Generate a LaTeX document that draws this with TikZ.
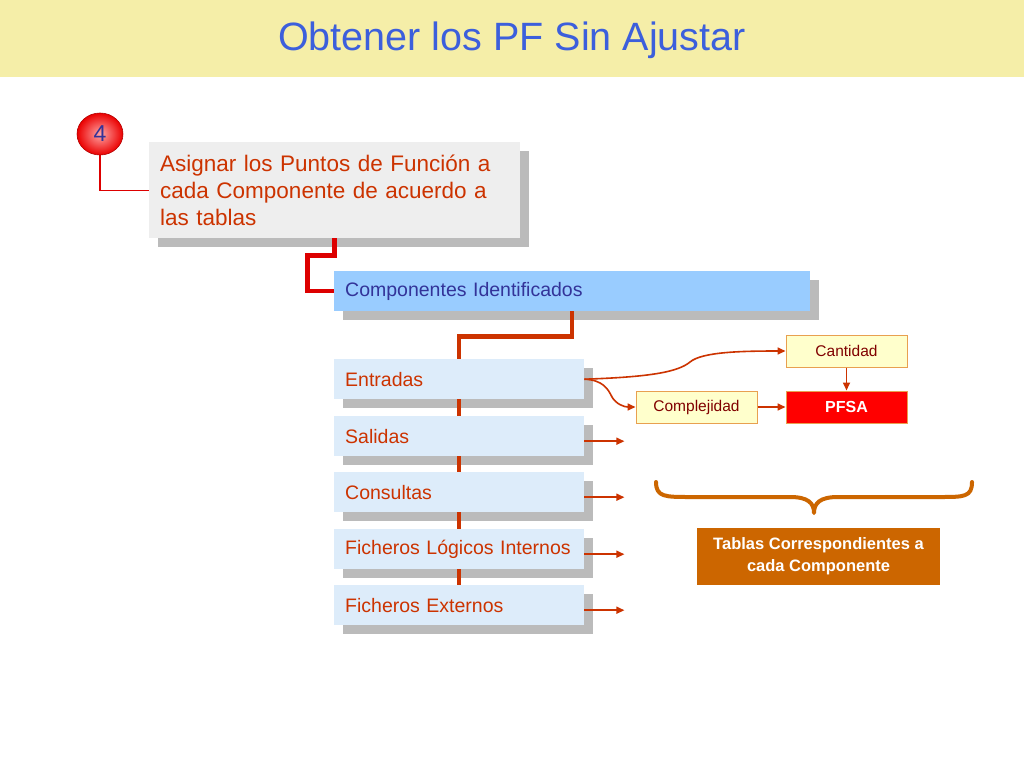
\documentclass[tikz,border=0pt]{standalone}
\usepackage{fontspec}
\setmainfont{Liberation Sans}
\usetikzlibrary{arrows.meta,shapes.geometric,calc}
\definecolor{hdr}{HTML}{F5EEA8}
\definecolor{ttl}{HTML}{3C5FDC}
\definecolor{rtx}{HTML}{CC3300}
\definecolor{shd}{HTML}{BBBBBB}
\definecolor{gbox}{HTML}{EEEEEE}
\definecolor{bbox}{HTML}{99CCFF}
\definecolor{btx}{HTML}{333399}
\definecolor{ibox}{HTML}{DDECFA}
\definecolor{conn}{HTML}{DD0000}
\definecolor{ylw}{HTML}{FFFFCC}
\definecolor{ylb}{HTML}{E8A050}
\definecolor{dred}{HTML}{800000}
\definecolor{org}{HTML}{CC6600}
\pgfdeclarelayer{background}
\pgfdeclarelayer{canvas}
\pgfsetlayers{canvas,background,main}
\tikzset{
  box/.style={anchor=north west, inner ysep=0pt, align=left, font=\fontsize{19.5}{23}\selectfont},
  itembox/.style={box, fill=ibox, text=rtx, minimum height=40, text width=228, inner xsep=11},
  smallbox/.style={draw=ylb, line width=1, fill=ylw, text=dred, minimum width=121, minimum height=32, inner sep=0pt, font=\fontsize{15.5}{18}\selectfont},
  arr/.style={draw=rtx, line width=1.6, -{Triangle[length=8pt,width=7pt]}},
  shadowbox/.style={fill=shd}
}
\newcommand{\shadowof}[1]{\fill[shadowbox] ($(#1.north west)+(9,9)$) rectangle ($(#1.south east)+(9,9)$);}
\begin{document}
\begin{tikzpicture}[x=1pt,y=-1pt]
\useasboundingbox (0,0) rectangle (1024,768);
\begin{pgfonlayer}{canvas}
\fill[white] (0,0) rectangle (1024,768);
\fill[hdr] (0,0) rectangle (1024,77);
\end{pgfonlayer}
\node[text=ttl, font=\fontsize{39.5}{44}\selectfont] (title) at (512,40) {Obtener los PF Sin Ajustar};

% step number
\shade[inner color=red!35!white, outer color=red!92!black, draw=red!70!black, line width=0.6] (100,134) ellipse [x radius=23, y radius=21];
\node[ellipse, minimum width=46, minimum height=42, inner sep=0pt, text=btx, font=\fontsize{23}{24}\selectfont] (c4) at (100,134) {4};

% main boxes
\node[box, fill=gbox, text=rtx, minimum height=96, text width=349, inner xsep=11, font=\fontsize{22.5}{27}\selectfont] (b1) at (149,142) {Asignar los Puntos de Función a\\cada Componente de acuerdo a\\las tablas};
\node[box, fill=bbox, text=btx, minimum height=40, text width=454, inner xsep=11] (b2) at (334,271) {Componentes Identificados};

\node[itembox] (ent) at (334,359) {Entradas};
\node[itembox] (sal) at (334,416) {Salidas};
\node[itembox] (con) at (334,472) {Consultas};
\node[itembox] (fli) at (334,529) {Ficheros Lógicos Internos};
\node[itembox] (fex) at (334,585) {Ficheros Externos};

\begin{pgfonlayer}{background}
\shadowof{b1}
\shadowof{b2}
\shadowof{ent}
\shadowof{sal}
\shadowof{con}
\shadowof{fli}
\shadowof{fex}
\draw[conn, line width=1.2] (c4.south) |- (b1.west);
\draw[conn, line width=4.5] (b1.south) -- ++(0,17) -- ++(-27,0) |- (b2.west);
\draw[rtx, line width=4.5] (b2.south) -- ++(0,25) -| (fex.north);
\end{pgfonlayer}

% small boxes
\node[smallbox] (cant) at (846.5,351) {Cantidad};
\node[smallbox] (comp) at (696.5,407) {Complejidad};
\node[smallbox, fill=red, text=white, font=\fontsize{16}{18}\selectfont\bfseries] (pfsa) at (846.5,407) {PFSA};

\draw[arr] (ent.east) .. controls (650,377) and (678,372) .. (690,362) .. controls (702,352) and (740,351) .. (cant.west);
\draw[arr] (ent.east) .. controls (603,380) and (608,389) .. (612,397) .. controls (616,404) and (624,407) .. (comp.west);
\draw[arr] (cant.south) -- (pfsa.north);
\draw[arr] (comp.east) -- (pfsa.west);

\draw[arr] ([shift={(0,5)}]sal.east) -- ++(40,0);
\draw[arr] ([shift={(0,5)}]con.east) -- ++(40,0);
\draw[arr] ([shift={(0,5)}]fli.east) -- ++(40,0);
\draw[arr] ([shift={(0,5)}]fex.east) -- ++(40,0);

% brace
\draw[org, line width=4, line cap=round, line join=round] (656,482) .. controls (656,497) and (665,497) .. (690,497) -- (790,497) .. controls (808,497) and (814,503) .. (814,513) .. controls (814,503) and (820,497) .. (838,497) -- (940,497) .. controls (964,497) and (972,497) .. (972,482);

\node[fill=org, text=white, minimum width=243, minimum height=57, inner sep=0pt, align=center, font=\fontsize{16.5}{22}\selectfont\bfseries] (tab) at (818.5,556.5) {Tablas Correspondientes a\\cada Componente};
\end{tikzpicture}
\end{document}
